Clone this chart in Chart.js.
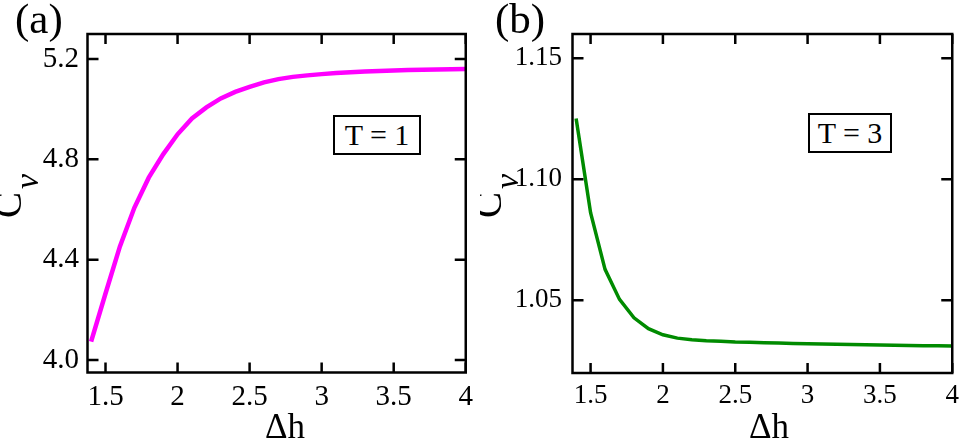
<!DOCTYPE html>
<html><head><meta charset="utf-8">
<script src="https://cdn.jsdelivr.net/npm/chart.js@4.4.0/dist/chart.umd.min.js"></script>
<style>
html,body{margin:0;padding:0;background:#fff;width:966px;height:442px;overflow:hidden;}
#wrap{position:relative;width:966px;height:442px;font-family:'Liberation Serif','Times New Roman',serif;color:#000;}
.panel{position:absolute;top:0;height:442px;overflow:hidden;}
.panel canvas{position:absolute;left:0;top:0;}
.lbl{position:absolute;line-height:1;white-space:nowrap;}
.cv{transform-origin:0 0;transform:rotate(-90deg);font-size:39px;}
.cv i{font-size:34px;position:relative;top:17px;margin-left:3px;}
.dh{width:200px;text-align:center;font-size:35px;}
.box{position:absolute;border:2px solid #000;box-sizing:border-box;display:flex;align-items:center;justify-content:center;font-size:30px;line-height:1;background:#fff;}
</style></head>
<body><div id="wrap">
<div class="panel" style="left:0;width:480px">
  <canvas id="ca" width="480" height="442"></canvas>
  <div class="lbl" style="left:15px;top:-3px;font-size:43px">(a)</div>
  <div class="lbl cv" style="left:-12.5px;top:218px">C<i>ν</i></div>
  <div class="lbl dh" style="left:185px;top:408.5px">Δh</div>
  <div class="box" style="left:333px;top:115px;width:88px;height:40px">T = 1</div>
</div>
<div class="panel" style="left:480px;width:486px">
  <canvas id="cb" width="486" height="442"></canvas>
  <div class="lbl" style="left:15px;top:-3px;font-size:43px">(b)</div>
  <div class="lbl cv" style="left:-12.5px;top:218px">C<i>ν</i></div>
  <div class="lbl dh" style="left:189px;top:408.5px">Δh</div>
  <div class="box" style="left:328px;top:113px;width:84px;height:40px">T = 3</div>
</div>
</div>
<script>
// ---- data ----
const deltaH = [1.4, 1.5, 1.6, 1.7, 1.8, 1.9, 2.0, 2.1, 2.2, 2.3, 2.4, 2.5, 2.6, 2.7, 2.8, 2.9, 3.0, 3.1, 3.2, 3.3, 3.4, 3.5, 3.6, 3.7, 3.8, 3.9, 4.0];
const cvT1 = [4.073, 4.265, 4.453, 4.607, 4.727, 4.820, 4.900, 4.963, 5.007, 5.043, 5.069, 5.089, 5.107, 5.120, 5.129, 5.135, 5.140, 5.144, 5.147, 5.150, 5.152, 5.154, 5.156, 5.157, 5.158, 5.159, 5.160];
const cvT3 = [1.1251, 1.0862, 1.0628, 1.0504, 1.0428, 1.0383, 1.0358, 1.0344, 1.0337, 1.0333, 1.0331, 1.0328, 1.0327, 1.0325, 1.0324, 1.0322, 1.0321, 1.0320, 1.0319, 1.0318, 1.0317, 1.0316, 1.0315, 1.0314, 1.0313, 1.0313, 1.0312];
const xTickValues = [1.5, 2, 2.5, 3, 3.5, 4];
const xTickLabels = ['1.5', '2', '2.5', '3', '3.5', '4'];
const yTickValuesA = [4.0, 4.4, 4.8, 5.2];
const yTickLabelsA = ['4.0', '4.4', '4.8', '5.2'];
const yTickValuesB = [1.05, 1.10, 1.15];
const yTickLabelsB = ['1.05', '1.10', '1.15'];
const xRange = [1.375, 4];
const yRangeA = [3.95, 5.30];
const yRangeB = [1.02, 1.16];

const FONT = "'Liberation Serif','Times New Roman',serif";

const framePlugin = {
  id: 'frame',
  afterDatasetsDraw(chart) {
    const {ctx, chartArea: a, scales} = chart;
    ctx.save();
    ctx.strokeStyle = '#000';
    ctx.lineWidth = 2.5;
    ctx.beginPath();
    scales.x.ticks.forEach(t => {
      const px = scales.x.getPixelForValue(t.value);
      ctx.moveTo(px, a.bottom); ctx.lineTo(px, a.bottom - 10);
      ctx.moveTo(px, a.top); ctx.lineTo(px, a.top + 10);
    });
    scales.y.ticks.forEach(t => {
      const py = scales.y.getPixelForValue(t.value);
      ctx.moveTo(a.left, py); ctx.lineTo(a.left + 11, py);
      ctx.moveTo(a.right, py); ctx.lineTo(a.right - 11, py);
    });
    ctx.stroke();
    ctx.strokeRect(a.left, a.top, a.right - a.left, a.bottom - a.top);
    ctx.restore();
  }
};

function makeChart(id, ys, color, lw, yRange, yTicks, yLabels, yWidth, yPad, padRight, xHeight, fs) {
  return new Chart(document.getElementById(id), {
    type: 'line',
    data: {
      datasets: [{
        data: deltaH.map((x, i) => ({x: x, y: ys[i]})),
        borderColor: color,
        borderWidth: lw,
        pointRadius: 0,
        tension: 0,
        fill: false
      }]
    },
    options: {
      responsive: false,
      animation: false,
      devicePixelRatio: 1,
      layout: {padding: {left: 0, top: 34, right: padRight, bottom: 0}},
      plugins: {legend: {display: false}, tooltip: {enabled: false}},
      scales: {
        x: {
          type: 'linear',
          min: xRange[0], max: xRange[1],
          afterBuildTicks: s => { s.ticks = xTickValues.map(v => ({value: v})); },
          afterFit: s => { s.height = xHeight; },
          grid: {display: false, drawTicks: false},
          border: {display: false},
          ticks: {
            color: '#000', padding: 7, maxRotation: 0, autoSkip: false,
            font: {family: FONT, size: fs},
            callback: (v, i) => xTickLabels[i]
          }
        },
        y: {
          type: 'linear',
          min: yRange[0], max: yRange[1],
          afterBuildTicks: s => { s.ticks = yTicks.map(v => ({value: v})); },
          afterFit: s => { s.width = yWidth; },
          grid: {display: false, drawTicks: false},
          border: {display: false},
          ticks: {
            color: '#000', padding: yPad, autoSkip: false,
            font: {family: FONT, size: fs},
            callback: (v, i) => yLabels[i]
          }
        }
      }
    },
    plugins: [framePlugin]
  });
}

makeChart('ca', cvT1, '#ff00ff', 4.5, yRangeA, yTickValuesA, yTickLabelsA, 87.5, 8.5, 9, 69.5, 29);
makeChart('cb', cvT3, '#008b00', 3.5, yRangeB, yTickValuesB, yTickLabelsB, 92.5, 10.5, 9, 69, 27);
</script>
</body></html>
